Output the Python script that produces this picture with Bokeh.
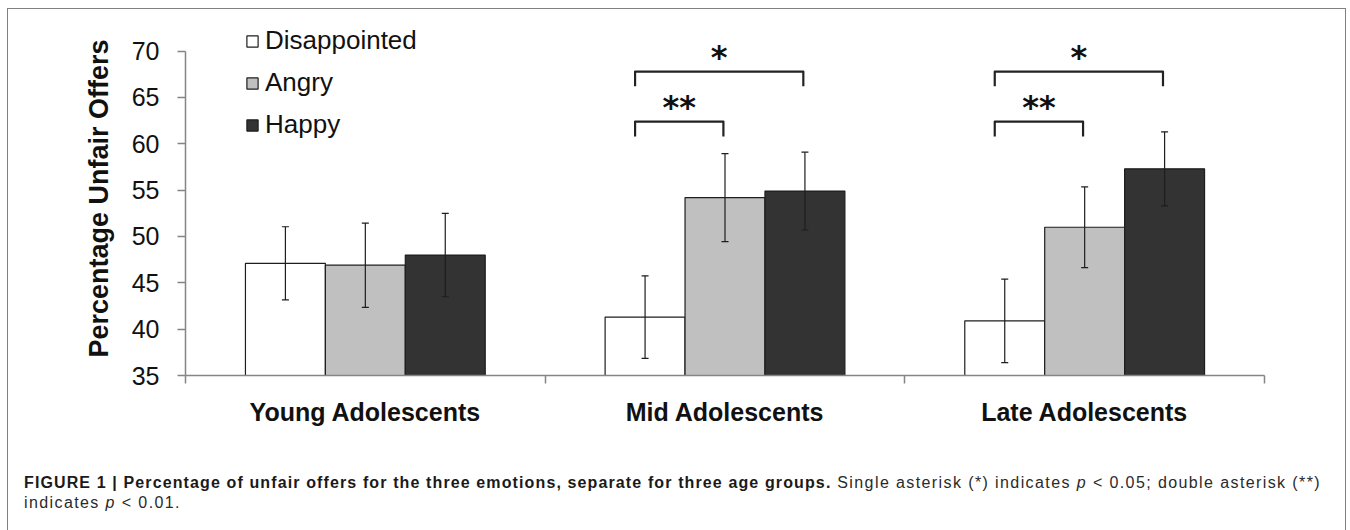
from bokeh.plotting import figure
from bokeh.models import (ColumnDataSource, Whisker, TeeHead, Legend, LegendItem,
                          FixedTicker, Div, Range1d)
from bokeh.layouts import column
from bokeh.embed import file_html
from bokeh.resources import INLINE
from bokeh.core.properties import value

# ---------------- data ----------------
groups = ["Young Adolescents", "Mid Adolescents", "Late Adolescents"]
emotions = ["Disappointed", "Angry", "Happy"]
disappointed = [47.1, 41.3, 40.9]
angry = [46.9, 54.2, 51.0]
happy = [48.0, 54.9, 57.3]
disappointed_err = [3.95, 4.45, 4.5]
angry_err = [4.55, 4.75, 4.35]
happy_err = [4.5, 4.2, 4.0]
y_ticks = [35, 40, 45, 50, 55, 60, 65, 70]

sig_groups = ["Mid Adolescents", "Mid Adolescents", "Late Adolescents", "Late Adolescents"]
sig_left = ["Disappointed", "Disappointed", "Disappointed", "Disappointed"]
sig_right = ["Angry", "Happy", "Angry", "Happy"]
sig_marks = ["**", "*", "**", "*"]
sig_level = [62.4, 67.8, 62.4, 67.8]

# ---------------- styles ----------------
fills = ["#ffffff", "#c0c0c0", "#333333"]
edge = "#1e1e1e"
axis_gray = "#858585"
FONT = "Liberation Sans"
bw = 2.0 / 9.0  # bar width in group units
y_top_room = 3.2  # headroom above the last tick (space for the legend)

p = figure(width=1337, height=446,
           x_range=Range1d(0, len(groups)),
           y_range=Range1d(y_ticks[0], y_ticks[-1] + y_top_room),
           output_backend="svg", toolbar_location=None,
           min_border_left=177, min_border_right=81, min_border_top=12, min_border_bottom=80)
p.outline_line_color = None
p.xgrid.visible = False
p.ygrid.visible = False
p.background_fill_color = "white"
p.border_fill_color = "white"

# x axis: labels at group centers, ticks at group boundaries
xa = p.xaxis[0]
xa.ticker = FixedTicker(ticks=[i + 0.5 for i in range(len(groups))],
                        minor_ticks=[float(i) for i in range(len(groups) + 1)])
xa.major_label_overrides = {i + 0.5: g for i, g in enumerate(groups)}
xa.major_tick_line_color = None
xa.major_tick_out = 0
xa.major_tick_in = 0
xa.minor_tick_out = 8
xa.minor_tick_in = 0
xa.minor_tick_line_color = axis_gray
xa.minor_tick_line_width = 1.5
xa.axis_line_color = axis_gray
xa.axis_line_width = 1.5
xa.major_label_text_font = FONT
xa.major_label_text_font_size = "25px"
xa.major_label_text_font_style = "bold"
xa.major_label_text_color = "#111111"
xa.major_label_standoff = 14

ya = p.yaxis[0]
ya.ticker = FixedTicker(ticks=y_ticks, minor_ticks=[])
ya.bounds = (y_ticks[0], y_ticks[-1])
ya.major_tick_out = 8
ya.major_tick_in = 0
ya.major_tick_line_color = axis_gray
ya.major_tick_line_width = 1.5
ya.axis_line_color = axis_gray
ya.axis_line_width = 1.5
ya.major_label_text_font = FONT
ya.major_label_text_font_size = "25px"
ya.major_label_text_color = "#111111"
ya.major_label_standoff = 18
ya.axis_label = "Percentage Unfair Offers"
ya.axis_label_text_font = FONT
ya.axis_label_text_font_size = "27px"
ya.axis_label_text_font_style = "bold"
ya.axis_label_text_color = "#111111"
ya.axis_label_standoff = 15

# bars + error bars
series = [disappointed, angry, happy]
errors = [disappointed_err, angry_err, happy_err]
renderers = []
for k, (emo, vals, errs) in enumerate(zip(emotions, series, errors)):
    xs = [i + 0.5 + (k - 1) * bw for i in range(len(groups))]
    src = ColumnDataSource(dict(x=xs, top=vals,
                                upper=[v + e for v, e in zip(vals, errs)],
                                lower=[v - e for v, e in zip(vals, errs)]))
    r = p.vbar(x="x", top="top", bottom=y_ticks[0] - 1, width=bw, source=src,
               fill_color=fills[k], line_color=edge, line_width=1.2)
    renderers.append(r)
    w = Whisker(source=src, base="x", upper="upper", lower="lower",
                line_color=edge, line_width=1.2, level="overlay",
                upper_head=TeeHead(size=7, line_color=edge, line_width=1.2),
                lower_head=TeeHead(size=7, line_color=edge, line_width=1.2))
    p.add_layout(w)

# significance brackets
bxs, bys, tx, ty = [], [], [], []
for g, a, b, lev in zip(sig_groups, sig_left, sig_right, sig_level):
    gi = groups.index(g)
    xl = gi + 0.5 + (emotions.index(a) - 1) * bw - 0.125 * bw
    xr = gi + 0.5 + (emotions.index(b) - 1) * bw - 0.02 * bw
    bxs.append([xl, xl, xr, xr])
    bys.append([lev - 1.6, lev, lev, lev - 1.6])
    tx.append((xl + xr) / 2)
    ty.append(lev)
p.multi_line(xs=bxs, ys=bys, line_color="#222222", line_width=2.2, line_join="round")
p.text(x=tx, y=ty, text=sig_marks, text_align="center", text_baseline="alphabetic",
       text_font=value("DejaVu Sans"), text_font_size="32px", text_font_style="bold",
       text_color="#111111", y_offset=-15)

# legend
legend = Legend(items=[LegendItem(label=e, renderers=[r]) for e, r in zip(emotions, renderers)],
                location=(60, 235), orientation="vertical",
                label_text_font=FONT, label_text_font_size="26px", label_text_color="#111111",
                glyph_width=14, glyph_height=14, label_standoff=6, spacing=11,
                padding=0, margin=0, border_line_color=None, background_fill_alpha=0)
p.add_layout(legend)

caption_html = (
    '<div style="font-family:\'Liberation Sans\',Arial,sans-serif;font-size:16px;'
    'line-height:20px;color:#1a1a1a;white-space:nowrap;'
    'padding:13px 0 0 11px;">'
    '<b style="letter-spacing:1.12px">FIGURE 1 | Percentage of unfair offers for the three emotions, '
    'separate for three age groups.</b>'
    '<span style="color:#2a2a2a;letter-spacing:1.4px"> Single asterisk (*) indicates <i>p</i> &lt; 0.05; '
    'double asterisk (**)<br>indicates <i>p</i> &lt; 0.01.</span></div>'
)
cap = Div(text=caption_html, width=1200, height=74)

layout = column(p, cap, margin=(8, 0, 0, 7),
                styles={"border-left": "1.5px solid #808080",
                        "border-top": "1.5px solid #808080",
                        "border-right": "1.5px solid #808080"})

open("out.html", "w").write(file_html(layout, INLINE))
